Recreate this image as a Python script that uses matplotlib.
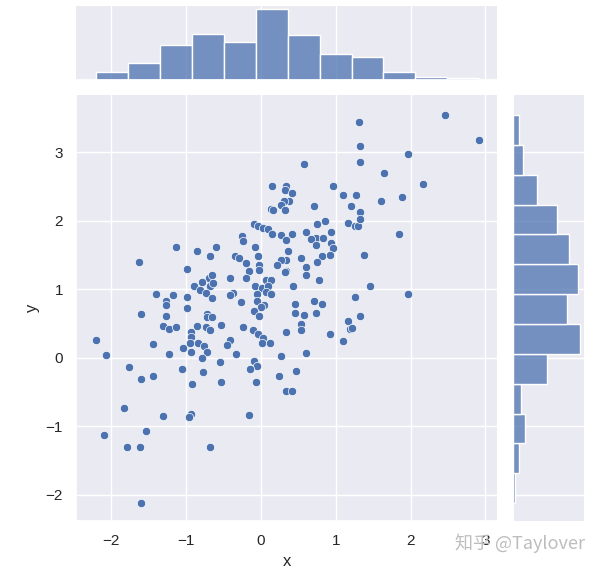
import numpy as np
import matplotlib
matplotlib.use("Agg")
import matplotlib.pyplot as plt
import seaborn as sns

# points
x = [1.31, 1.33, 1.32, 0.57, 0.15, 0.33, 0.32, 0.42, 0.96, 1.10, 1.27, 1.20, 0.38, 0.31, 0.27, 0.14,
     0.16, 0.32, 0.71, 1.33, 0.75, 0.86, 1.16, 1.26, 1.30, 1.32, -0.09, -0.04, 0.03, 0.10, 0.15, 0.27,
     0.41, 0.60, 0.93, -0.26, 0.73, 0.83,
     2.46, 2.92, 1.96, 1.64, 2.16, 1.60, 1.88, 1.85,
     -1.13, -0.85, -0.60, -0.68, -1.63, -0.99, -0.69, -0.65, -0.79, -0.90, -0.68, -0.64, -0.82, -0.74,
     -0.66, -1.40, -1.18, -1.27, -1.27, -0.99, -0.99, -1.60, -1.27, -0.72, -0.72, -0.66, -0.53, -1.31,
     -1.23, -1.13, -0.85, -0.74, -0.68, -0.94, -0.94, -2.21, -1.44, -0.95, -0.84, -0.76, -1.04, -0.72,
     -0.94, -2.07, -1.23, -0.79, -0.55, -1.76, -1.06, -0.77, -1.45, -1.60,
     -0.92, -0.53, -1.83, -1.31, -0.94, -0.96, -2.10, -1.54, -1.79, -1.62, -0.68, -1.61,
     -0.07, 0.24, 0.33, 0.42, -0.16,
     -0.24, 0.34, 0.67, 0.94, 0.96, 0.92, 0.74, 0.81, 0.75, 0.54, 0.36, 0.34, 0.27, 0.21, 0.60, 0.60,
     0.34, 0.32, 0.77, 0.43, -0.08, -0.35, -0.29, -0.20, -0.04, -0.02, -0.02, -0.16, -0.20, -0.42,
     0.07, 0.13, -0.08, 0.01, 0.10, -0.37, -0.42, -0.06, 0.07, 0.14, -0.27, -0.06, 0.04, 0.00, -0.09,
     -0.03, 0.45, 0.46, 0.58, 0.71, 0.81, 0.73, 1.25, 1.33, 0.54, 0.54, 0.34, 0.92, 1.16, 1.19, 1.21,
     1.09, -0.24, -0.11, -0.04, 0.03, 0.02, 0.12, -0.41, -0.46, -0.34, 0.27, 0.60, -0.10, -0.05, -0.15,
     0.47,
     1.38, 1.46, 1.96]
y = [3.44, 3.09, 2.85, 2.83, 2.51, 2.51, 2.45, 2.41, 2.51, 2.37, 2.38, 2.22, 2.29, 2.29, 2.23, 2.17,
     2.15, 2.15, 2.21, 2.13, 1.95, 1.99, 1.96, 1.92, 1.92, 2.03, 1.95, 1.92, 1.90, 1.88, 1.80, 1.79,
     1.80, 1.83, 1.83, 1.77, 1.75, 1.75,
     3.54, 3.18, 2.97, 2.69, 2.53, 2.29, 2.35, 1.80,
     1.62, 1.56, 1.62, 1.48, 1.40, 1.30, 1.17, 1.21, 1.10, 1.05, 1.05, 1.09, 0.99, 0.95,
     0.87, 0.93, 0.91, 0.83, 0.77, 0.89, 0.73, 0.64, 0.61, 0.64, 0.60, 0.59, 0.48, 0.47,
     0.42, 0.45, 0.47, 0.45, 0.41, 0.37, 0.31, 0.26, 0.20, 0.21, 0.21, 0.17, 0.14, 0.09,
     0.08, 0.04, 0.06, 0.00, -0.06, -0.14, -0.16, -0.20, -0.26, -0.31,
     -0.38, -0.35, -0.73, -0.85, -0.82, -0.86, -1.13, -1.07, -1.30, -1.30, -1.30, -2.12,
     -0.36, -0.27, -0.49, -0.49, -0.83,
     1.70, 1.72, 1.73, 1.67, 1.60, 1.50, 1.64, 1.48, 1.40, 1.45, 1.56, 1.42, 1.42, 1.36, 1.33, 1.21,
     1.27, 1.25, 1.14, 1.05, 1.61, 1.49, 1.46, 1.38, 1.48, 1.36, 1.28, 1.26, 1.16, 1.16,
     1.14, 1.14, 1.04, 1.02, 1.04, 0.95, 0.91, 0.93, 0.96, 0.93, 0.81, 0.83, 0.77, 0.74, 0.68,
     0.61, 0.79, 0.65, 0.63, 0.83, 0.78, 0.65, 0.89, 0.61, 0.49, 0.41, 0.38, 0.35, 0.53, 0.42, 0.43,
     0.25, 0.45, 0.41, 0.35, 0.29, 0.22, 0.22, 0.26, 0.19, 0.05, 0.02, 0.07, -0.04, -0.12, -0.17,
     -0.19,
     1.50, 1.05, 0.93]

sns.set_theme(style="darkgrid", palette="deep")
plt.rcParams['font.family'] = ['Liberation Sans', 'DejaVu Sans']

g = sns.jointplot(x=x, y=y, height=6, color="#4C72B0")
fig = g.figure
fig.set_size_inches(6, 5.7)
g.ax_joint.set_position([0.127, 0.086, 0.702, 0.747])
g.ax_marg_x.set_position([0.127, 0.860, 0.702, 0.130])
g.ax_marg_y.set_position([0.855, 0.086, 0.118, 0.747])
g.ax_joint.set_xlim(-2.47, 3.16)
g.ax_joint.set_ylim(-2.38, 3.83)
g.ax_joint.set_xlabel("x")
g.ax_joint.set_ylabel("y")

fig.text(0.758, 0.047, "知乎 @Taylover", color="#bdbdbd", fontsize=13,
         family=["Noto Sans CJK SC", "DejaVu Sans"], va="center")

fig.savefig("out.png", dpi=100)
